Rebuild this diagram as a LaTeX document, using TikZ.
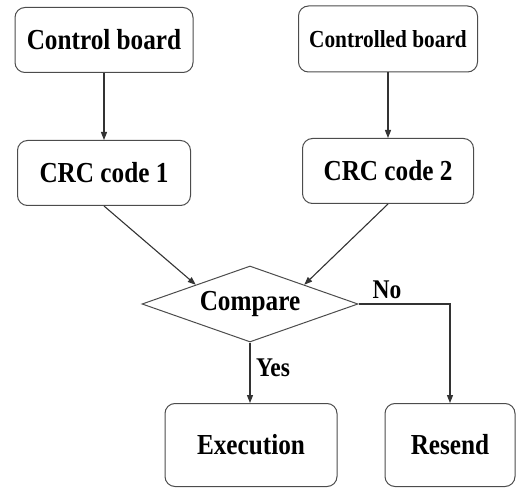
\documentclass[tikz,border=0pt]{standalone}
\usepackage{fontspec}
\setmainfont[FakeStretch=0.87]{Liberation Serif}
\usetikzlibrary{shapes.geometric,arrows.meta,calc}
\begin{document}
\begin{tikzpicture}[x=1pt,y=-1pt,
  box/.style={draw=black!70,line width=1pt,rounded corners=10pt,inner sep=0pt,font=\fontsize{29}{32}\selectfont\bfseries},
  conn/.style={draw=black!80,line width=1.1pt,-{Triangle[length=8pt,width=6pt]}},
  lbl/.style={font=\fontsize{27}{30}\selectfont\bfseries,inner sep=0pt}]
\useasboundingbox (0,0) rectangle (517,489);
\node[box,minimum width=178pt,minimum height=65pt] (cb) at (104,40) {Control board};
\node[box,minimum width=179pt,minimum height=66pt,font=\fontsize{24.5}{28}\selectfont\bfseries] (cdb) at (388,39) {Controlled board};
\node[box,minimum width=173pt,minimum height=65pt] (c1) at (104,173) {CRC code 1};
\node[box,minimum width=171pt,minimum height=65pt] (c2) at (388,171) {CRC code 2};
\node[diamond,draw=black!70,line width=1pt,minimum width=216pt,minimum height=76pt,inner sep=0pt,font=\fontsize{29}{32}\selectfont\bfseries] (cmp) at (250,304) {\makebox[0pt]{Compare}};
\node[box,minimum width=172pt,minimum height=83pt] (ex) at (251,445) {Execution};
\node[box,minimum width=130pt,minimum height=83pt] (rs) at (450,445) {Resend};
\draw[conn] (cb) -- (c1);
\draw[conn] (cdb) -- (c2);
\draw[conn] (c1.south) -- ($(cmp.west)!0.5!(cmp.north)$);
\draw[conn] (c2.south) -- ($(cmp.east)!0.5!(cmp.north)$);
\draw[conn] (cmp.south) -- (cmp.south |- ex.north);
\draw[conn] (cmp.east) -| (rs.north);
\node[lbl] (yes) at (273,368) {Yes};
\node[lbl] (no) at (387,290) {No};
\end{tikzpicture}
\end{document}
